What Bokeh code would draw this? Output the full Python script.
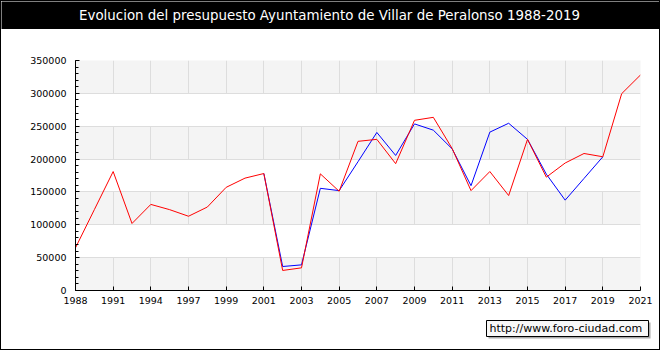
from bokeh.plotting import figure
from bokeh.models import ColumnDataSource, FixedTicker, Range1d, NumeralTickFormatter
from bokeh.layouts import column
from bokeh.embed import file_html
from bokeh.resources import INLINE
from bokeh.core.properties import value

TITLE = "Evolucion del presupuesto Ayuntamiento de Villar de Peralonso 1988-2019"
WATERMARK = "http://www.foro-ciudad.com"

years = [1988, 1990, 1991, 1993, 1994, 1996, 1997, 1998, 1999, 2000, 2001, 2002,
         2003, 2004, 2005, 2006, 2007, 2008, 2009, 2010, 2011, 2012, 2013, 2014,
         2015, 2016, 2017, 2018, 2019, 2020, 2021]
red_values = [65000, 123000, 181000, 102000, 131000, 123000, 113000, 127000, 157000,
              171000, 178000, 30500, 34500, 177500, 151000, 227000, 230000, 193000,
              259000, 263500, 216000, 152000, 181000, 144500, 230000, 172500, 194000,
              208500, 203500, 299500, 328000]
blue_years = [2001, 2002, 2003, 2004, 2005, 2006, 2007, 2008, 2009, 2010, 2011, 2012,
              2013, 2014, 2015, 2016, 2017, 2018, 2019]
blue_values = [178000, 36500, 39000, 155500, 152000, 196000, 240500, 205500, 253500,
               244000, 215500, 159500, 241000, 254500, 230000, 177000, 137500, 170500,
               203500]
tick_years = [1988, 1991, 1994, 1997, 1999, 2001, 2003, 2005, 2007, 2009, 2011, 2013,
              2015, 2017, 2019, 2021]
y_ticks = [0, 50000, 100000, 150000, 200000, 250000, 300000, 350000]
y_minor_step = 10000

FONT = "DejaVu Sans"
W = 658


def blank_fig(height, bg):
    f = figure(width=W, height=height, toolbar_location=None, output_backend="svg",
               x_range=Range1d(0, W), y_range=Range1d(0, height), min_border=0,
               frame_align=False)
    f.axis.visible = False
    f.grid.visible = False
    f.outline_line_color = None
    f.background_fill_color = bg
    f.border_fill_color = bg
    return f


# ---- title bar ----
tfig = blank_fig(28, "black")
tfig.text(x=[W / 2 - 1], y=[14], text=[TITLE], text_align="center", text_baseline="middle",
          text_color="white", text_font=value(FONT), text_font_size="13.4px")

# ---- main chart ----
xpos = list(range(len(years)))
red_src = ColumnDataSource(dict(x=xpos, y=red_values))
blue_src = ColumnDataSource(dict(x=[years.index(y) for y in blue_years], y=blue_values))

p = figure(width=W, height=281, toolbar_location=None, output_backend="svg",
           x_range=Range1d(0, len(years) - 1), y_range=Range1d(y_ticks[0], y_ticks[-1]),
           min_border_left=74, min_border_right=19, min_border_top=31, min_border_bottom=20,
           frame_align=False)
p.outline_line_color = None
p.background_fill_color = "#f4f4f4"
p.border_fill_color = "white"

p.line("x", "y", source=blue_src, line_color="blue", line_width=1)
p.line("x", "y", source=red_src, line_color="red", line_width=1)

tick_pos = [years.index(y) for y in tick_years]
p.xaxis.ticker = FixedTicker(ticks=tick_pos, minor_ticks=[])
p.xaxis.major_label_overrides = {i: str(years[i]) for i in tick_pos}
minor = list(range(y_ticks[0], y_ticks[-1] + 1, y_minor_step))
p.yaxis.ticker = FixedTicker(ticks=y_ticks, minor_ticks=minor)
p.yaxis.formatter = NumeralTickFormatter(format="0")

for ax in (p.xaxis[0], p.yaxis[0]):
    ax.axis_line_color = "black"
    ax.major_tick_line_color = "black"
    ax.minor_tick_line_color = "black"
    ax.major_tick_in = 4
    ax.major_tick_out = 0
    ax.minor_tick_in = 3
    ax.minor_tick_out = 0
    ax.major_label_text_font = FONT
    ax.major_label_text_font_size = "9.5px"
    ax.major_label_text_color = "black"
p.yaxis.major_label_standoff = 9
p.xaxis.major_label_standoff = 6

p.xgrid.grid_line_color = "#dddddd"
p.ygrid.grid_line_color = "#dddddd"
p.ygrid.band_fill_color = "white"
p.ygrid.band_fill_alpha = 1.0

# ---- footer with watermark ----
ffig = blank_fig(39, "white")
ffig.quad(left=[487], right=[649], bottom=[11], top=[27], fill_color="#aaaaaa",
          line_color=None)
ffig.quad(left=[485], right=[647], bottom=[13], top=[29], fill_color="#f8f8f8",
          line_color="black", line_width=1)
ffig.text(x=[488], y=[21], text=[WATERMARK], text_align="left", text_baseline="middle",
          text_color="black", text_font=value(FONT), text_font_size="11px")

layout = column(tfig, p, ffig, styles={"border": "1px solid black"})
open("out.html", "w").write(file_html(layout, INLINE))
